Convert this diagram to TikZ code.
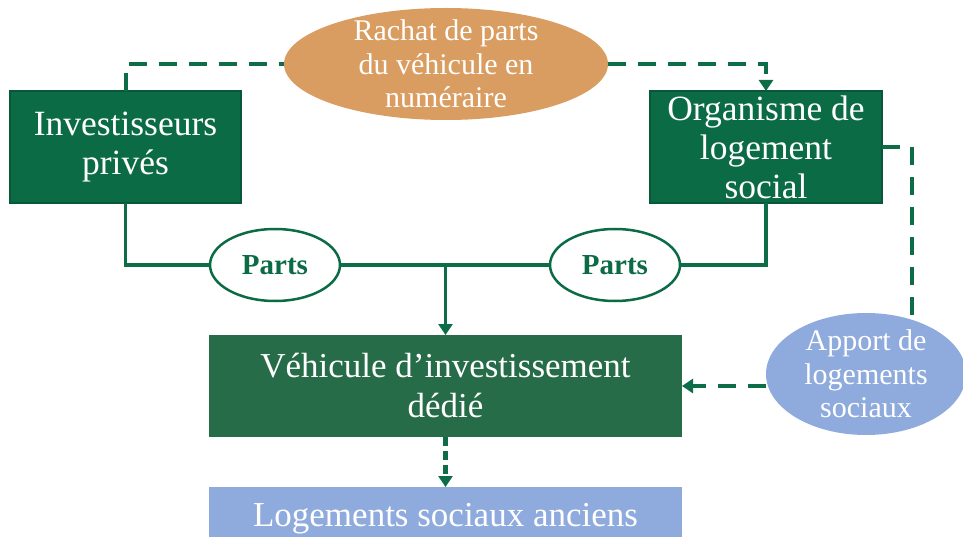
\documentclass[tikz,border=0pt]{standalone}
\usepackage{fontspec}
\setmainfont{Liberation Serif}
\usetikzlibrary{shapes.geometric,arrows.meta}
\definecolor{boxgreen}{HTML}{0B6B45}
\definecolor{boxedge}{HTML}{08573A}
\definecolor{vehgreen}{HTML}{276C48}
\definecolor{linegreen}{HTML}{0D6D46}
\definecolor{ochre}{HTML}{D99D61}
\definecolor{lightblue}{HTML}{8FAADC}

\begin{document}
\begin{tikzpicture}[x=1pt,y=-1pt]
  \tikzset{actor/.style = {rectangle,draw=boxedge,fill=boxgreen,line width=2pt,text=white,align=center,inner sep=0pt,outer sep=0pt,font=\fontsize{35.5}{39}\selectfont}}
  \tikzset{block/.style = {rectangle,fill=#1,text=white,align=center,inner sep=0pt,outer sep=0pt,font=\fontsize{35}{40}\selectfont}}
  \tikzset{flow/.style = {ellipse,fill=#1,text=white,align=center,inner sep=-8pt,outer sep=0pt,font=\fontsize{30}{33.5}\selectfont}}
  \tikzset{share/.style = {ellipse,draw=boxgreen,line width=2.5pt,fill=white,text=boxgreen,minimum width=130,minimum height=72,inner sep=0pt,outer sep=0pt,font=\bfseries\fontsize{29}{32}\selectfont}}
  \tikzset{solidline/.style = {draw=linegreen,line width=3.5pt}}
  \tikzset{dashline/.style = {draw=linegreen,line width=4pt,dash pattern=on 18pt off 12pt}}
  \tikzset{shortdash/.style = {draw=linegreen,line width=4.5pt,dash pattern=on 9pt off 5pt}}
  \tikzset{tip/.style = {-{Triangle[width=14pt,length=11pt]}}}
  \clip (0,0) rectangle (963,537);

	\node[actor,minimum width=231,minimum height=112] (inv) at (125.5,147) {Investisseurs\\privés};
	\node[actor,minimum width=232,minimum height=112] (org) at (766,147) {Organisme de\\logement\\social};
	\node[flow=ochre,minimum width=324,minimum height=112] (rachat) at (446,64) {Rachat de parts\\du véhicule en\\numéraire};
	\node[share] (partsL) at (275,265) {Parts};
	\node[share] (partsR) at (615,265) {Parts};
	\node[block=vehgreen,minimum width=473,minimum height=102] (veh) at (445.5,386) {Véhicule d’investissement\\dédié};
	\node[block=lightblue,minimum width=473,minimum height=64] (logt) at (445.5,519) {Logements sociaux anciens};
	\node[flow=lightblue,minimum width=200,minimum height=122] (apport) at (866,374) {Apport de\\logements\\sociaux};

	\draw[dashline] (inv.north) |- (rachat.west);
	\draw[dashline,tip] (rachat.east) -| (org.north);

	\draw[solidline] (inv.south) |- (partsL.west);
	\draw[solidline] (partsL.east) -- (partsR.west);
	\draw[solidline] (partsR.east) -| (org.south);
	\coordinate (hub) at (veh.north |- partsL.east);
	\draw[solidline,tip] (hub) -- (veh.north);

	\draw[dashline] (org.east) -| (apport.50);
	\draw[dashline,tip] (apport.west |- veh.east) -- (veh.east);
	\draw[shortdash,tip] (veh.south) -- (logt.north);

\end{tikzpicture}
\end{document}
